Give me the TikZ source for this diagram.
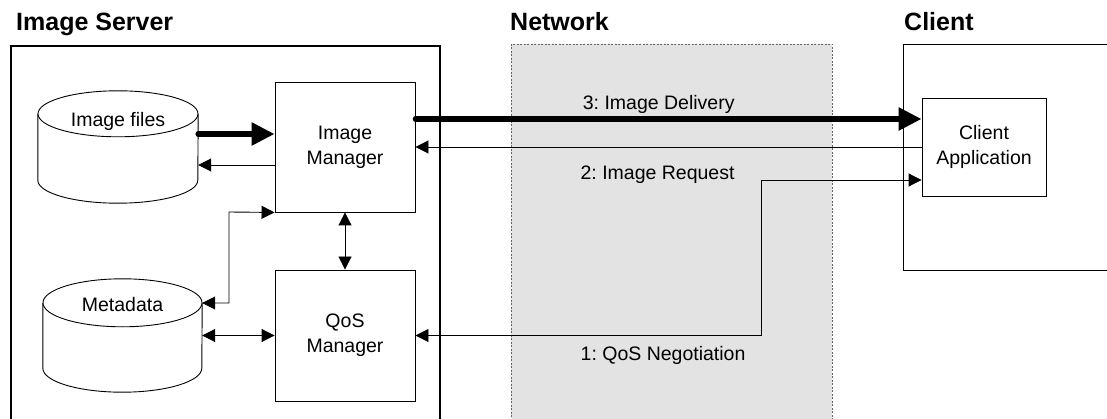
\documentclass[tikz,border=0pt]{standalone}
\usepackage{fontspec}
\setmainfont{Liberation Sans}
\usepackage{xcolor}
\usetikzlibrary{calc}
\usetikzlibrary{arrows.meta}
\tikzset{>={Triangle[length=13pt,width=13pt]}}
\frenchspacing
\colorlet{netgray}{black!11}
\tikzstyle{box}=[draw,line width=0.9pt,align=center,inner sep=0pt,font=\fontsize{19.5}{25}\selectfont]
\tikzstyle{store}=[inner sep=0pt,minimum width=160pt,minimum height=112pt]
\tikzstyle{drum}=[line width=0.9pt,fill=white]
\tikzstyle{link}=[line width=0.9pt]
\tikzstyle{fat}=[line width=5.5pt,line cap=round,-{Triangle[length=23pt,width=22pt]}]
\tikzstyle{title}=[anchor=base west,inner sep=0pt,font=\bfseries\fontsize{25}{28}\selectfont]
\tikzstyle{msg}=[anchor=base west,inner sep=0pt,font=\fontsize{19.5}{25}\selectfont]
\tikzstyle{label}=[inner sep=0pt,font=\fontsize{19.5}{25}\selectfont]

\begin{document}
\begin{tikzpicture}[x=1pt,y=-1pt]

  % picture size
  \useasboundingbox (0,0) rectangle (1107,419);

  % cylinder variables
  \def\rx{80pt}
  \def\ry{23pt}
  \def\rr{24pt}

  % frames + titles
  \draw[line width=1.4pt]
    (11,425) -- (11,46) -- (440,46) -- (440,425);
  \draw[dashed,dash pattern=on 2pt off 1.5pt,black!60,fill=netgray]
    (511,44) rectangle (832,425);
  \draw[line width=0.9pt]
    (1112,44) -- (903,44) -- (903,270) -- (1112,270);
  \node[title] (servertitle) at (16,31) {Image Server};
  \node[title] (nettitle) at (510,31) {Network};
  \node[title] (clienttitle) at (904,31) {Client};

  % managers
  \node[box,minimum width=140pt,minimum height=130pt] (imgmgr) at (345,147) {Image\\Manager};
  \node[box,minimum width=140pt,minimum height=131pt] (qosmgr) at (345,335.5) {QoS\\Manager};
  \node[box,fill=white,minimum width=124pt,minimum height=98pt] (clientapp) at (984,147) {Client\\Application};

  % stores
  \node[store] (files) at (118,147) {};
  \node[store,minimum width=159pt,minimum height=113pt] (meta) at (122.5,335.5) {};
  \draw[drum]
    ($(files.north west)+(0,23)$) -- ($(files.south west)+(0,-23)$)
    arc (180:360:{\rx} and {\ry}) -- ($(files.north east)+(0,23)$);
  \draw[drum]
    ($(files.north)+(0,23)$) ellipse ({\rx} and {\ry});
  \draw[drum]
    ($(meta.north west)+(0,24)$) -- ($(meta.south west)+(0,-24)$)
    arc (180:360:{79.5pt} and {\rr}) -- ($(meta.north east)+(0,24)$);
  \draw[drum]
    ($(meta.north)+(0,24)$) ellipse ({79.5pt} and {\rr});
  \node[label] (filestext) at (118,121) {Image files};
  \node[label] (metatext) at (122.5,305) {Metadata};

  % server links
  \draw[fat]
    ([yshift=13pt]files.east) -- ([yshift=13pt]imgmgr.west);
  \draw[link,->]
    ([yshift=-18pt]imgmgr.west) -- ([yshift=-18pt]files.east);
  \draw[link,<->]
    (imgmgr) -- (qosmgr);
  \coordinate (kink) at (229,212);
  \draw[link,<->]
    ([yshift=32.5pt]meta.east) -| (kink) -- (imgmgr.south west);
  \draw[link,<->]
    (meta.east) -- (qosmgr.west);

  % messages over the network
  \draw[fat]
    ([yshift=28pt]imgmgr.east) -- node[msg,pos=0.3254,yshift=9pt] (delivery) {3: Image Delivery} ([yshift=28pt]clientapp.west);
  \draw[link,->]
    (clientapp.west) -- node[msg,pos=0.6746,yshift=-33pt] (request) {2: Image Request} (imgmgr.east);
  \coordinate (turn) at (761,180);
  \draw[link,<->]
    (qosmgr.east) -| node[msg,pos=0.2384,yshift=-24.5pt] (nego) {1: QoS Negotiation} (turn) -- ([yshift=-33pt]clientapp.west);

\end{tikzpicture}
\end{document}
